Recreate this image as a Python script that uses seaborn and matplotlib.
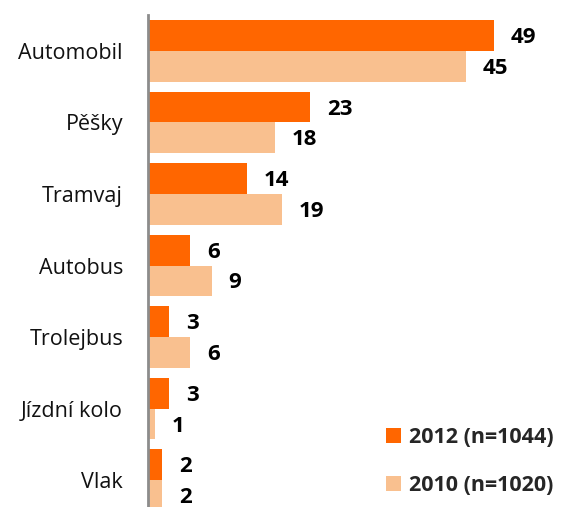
import matplotlib
matplotlib.use("Agg")
import matplotlib.pyplot as plt
import seaborn as sns
import pandas as pd
import numpy as np
from matplotlib.patches import Patch

categories = ["Automobil", "Pěšky", "Tramvaj", "Autobus", "Trolejbus", "Jízdní kolo", "Vlak"]
values_2012 = [49, 23, 14, 6, 3, 3, 2]
values_2010 = [45, 18, 19, 9, 6, 1, 2]
series = ["2012 (n=1044)", "2010 (n=1020)"]
colors = ["#FF6600", "#F9C08F"]

df = pd.DataFrame({
    "cat": categories * 2,
    "val": values_2012 + values_2010,
    "series": [series[0]] * len(categories) + [series[1]] * len(categories),
})

sns.set_style("white")
plt.rcParams['font.family'] = ['Open Sans', 'DejaVu Sans']

fig = plt.figure(figsize=(5.64, 5.07), dpi=100)
ax = fig.add_axes([148/564, 1 - 516/507, 1 - 148/564, (516 - 15)/507])

sns.barplot(data=df, y="cat", x="val", hue="series", order=categories,
            hue_order=series, palette=colors, width=0.86, orient="h",
            ax=ax, legend=False, saturation=1, linewidth=0, edgecolor="none")

ax.set_xlim(0, (564 - 148) / (346 / 49))
ax.set_ylim(6.5, -0.5)
ax.set_xlabel("")
ax.set_ylabel("")
ax.set_xticks([])
for s in ["top", "right", "bottom"]:
    ax.spines[s].set_visible(False)
ax.spines["left"].set_color("#8C8C8C")
ax.spines["left"].set_linewidth(2)

ax.set_yticks(range(len(categories)))
ax.set_yticklabels(categories, fontsize=15.5, color="#111111")
ax.tick_params(axis="y", which="major", length=0, pad=18)
ax.set_yticks(np.arange(-0.5, len(categories), 1), minor=True)
ax.tick_params(axis="y", which="minor", length=8, width=2, color="#8C8C8C", direction="out")

for container in ax.containers:
    texts = ax.bar_label(container, padding=12, fontsize=16, fontweight="bold", color="black")
    for t in texts:
        t.xyann = (12, -1.5)

handles = [Patch(facecolor=c, edgecolor="none") for c in colors]
leg = fig.legend(handles, series, loc="lower right", bbox_to_anchor=(1.0, 0.0),
                 frameon=False, prop={"size": 15.5, "weight": "bold"},
                 handlelength=0.72, handleheight=0.72, handletextpad=0.35,
                 labelspacing=1.25, borderaxespad=0.1)

fig.savefig("out.png", dpi=100)
